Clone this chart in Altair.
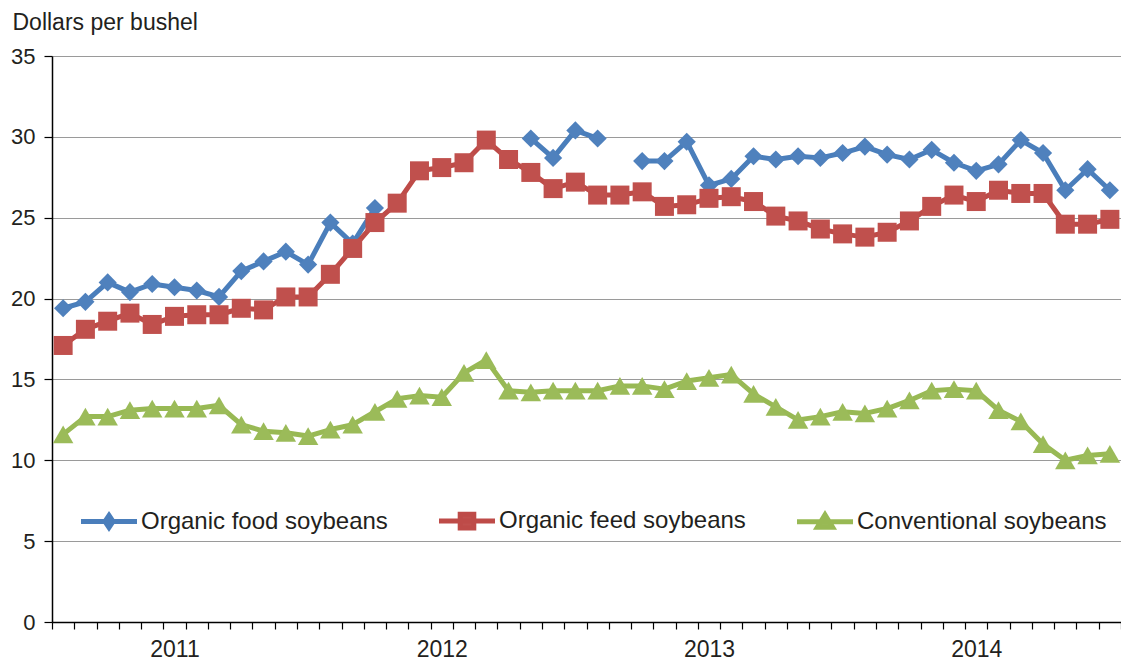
import altair as alt
import pandas as pd

years = [2011, 2012, 2013, 2014]
month_nums = ["01", "02", "03", "04", "05", "06", "07", "08", "09", "10", "11", "12"]
months = [f"{y}-{m}" for y in years for m in month_nums]

series_names = ["Organic food soybeans", "Organic feed soybeans", "Conventional soybeans"]

organic_food = [
    19.4, 19.8, 21.0, 20.4, 20.9, 20.7, 20.5, 20.1, 21.7, 22.3, 22.9, 22.1,
    24.7, 23.4, 25.6, None, None, None, None, None, None, 29.9, 28.7, 30.4,
    29.9, None, 28.5, 28.5, 29.7, 27.0, 27.4, 28.8, 28.6, 28.8, 28.7, 29.0,
    29.4, 28.9, 28.6, 29.2, 28.4, 27.9, 28.3, 29.8, 29.0, 26.7, 28.0, 26.7,
]
organic_feed = [
    17.1, 18.1, 18.6, 19.1, 18.4, 18.9, 19.0, 19.0, 19.4, 19.3, 20.1, 20.1,
    21.5, 23.1, 24.7, 25.9, 27.9, 28.1, 28.4, 29.8, 28.6, 27.8, 26.8, 27.2,
    26.4, 26.4, 26.6, 25.7, 25.8, 26.2, 26.3, 26.0, 25.1, 24.8, 24.3, 24.0,
    23.8, 24.1, 24.8, 25.7, 26.4, 26.0, 26.7, 26.5, 26.5, 24.6, 24.6, 24.9,
]
conventional = [
    11.6, 12.7, 12.7, 13.1, 13.2, 13.2, 13.2, 13.4, 12.2, 11.8, 11.7, 11.5,
    11.9, 12.2, 13.0, 13.8, 14.0, 13.9, 15.4, 16.2, 14.3, 14.2, 14.3, 14.3,
    14.3, 14.6, 14.6, 14.4, 14.9, 15.1, 15.3, 14.1, 13.3, 12.5, 12.7, 13.0,
    12.9, 13.2, 13.7, 14.3, 14.4, 14.3, 13.1, 12.4, 11.0, 10.0, 10.3, 10.4,
]

marker_colors = ["#4F81BD", "#C0504D", "#9BBB59"]
line_colors = ["#4A7EBB", "#BE4B48", "#98B954"]
shapes = ["diamond", "square", "triangle-up"]
sizes = [330, 361, 420]

# legend symbols: a line segment with the marker in the middle (unit = 8px)
legend_paths = [
    "M-3.5,0L3.5,0M0,-0.75L0.5,0L0,0.75L-0.5,0Z",
    "M-3.5,0L3.5,0M-0.85,-0.85L0.85,-0.85L0.85,0.85L-0.85,0.85Z",
    "M-3.5,0L3.5,0M0,-0.85L0.95,0.7L-0.95,0.7Z",
]

rows = []
for name, vals in zip(series_names, [organic_food, organic_feed, conventional]):
    seg = 0
    prev_none = False
    for m, v in zip(months, vals):
        if v is None:
            prev_none = True
            continue
        if prev_none:
            seg += 1
            prev_none = False
        rows.append({"month": m, "series": name, "value": v, "segment": seg})
df = pd.DataFrame(rows)

FONT = "Liberation Sans"
TXT = "#231f20"

x_enc = alt.X(
    "month:O",
    bandPosition=0.5,
    scale=alt.Scale(type="band", domain=months, paddingInner=0, paddingOuter=0),
    axis=alt.Axis(
        title=None,
        tickBand="extent",
        labelExpr="substring(datum.value, 5, 7) == '06' ? substring(datum.value, 0, 4) : ''",
        labelAngle=0,
        labelOverlap=False,
        labelFontSize=23,
        labelFont=FONT,
        labelColor=TXT,
        labelBaseline="alphabetic",
        labelPadding=27,
        tickSize=7,
        tickColor="#000000",
        tickWidth=1.2,
        domainColor="#000000",
        domainWidth=1.5,
        grid=False,
    ),
)
y_enc = alt.Y(
    "value:Q",
    scale=alt.Scale(domain=[0, 35], nice=False, zero=True),
    axis=alt.Axis(
        values=[0, 5, 10, 15, 20, 25, 30, 35],
        title="Dollars per bushel",
        titleAngle=0,
        titleAlign="left",
        titleBaseline="alphabetic",
        titleX=-40,
        titleY=-27,
        titleFont=FONT,
        titleFontSize=23,
        titleFontWeight="normal",
        titleColor=TXT,
        labelFont=FONT,
        labelFontSize=22,
        labelColor=TXT,
        labelPadding=9,
        tickSize=8,
        tickColor="#000000",
        tickWidth=1.2,
        domainColor="#000000",
        domainWidth=1.5,
        grid=True,
        gridColor="#9a9a9a",
        gridWidth=1.2,
    ),
)

base = alt.Chart(df)
layers = []
for name, mc, lc, shp, sz in zip(series_names, marker_colors, line_colors, shapes, sizes):
    sub = base.transform_filter(alt.datum.series == name)
    layers.append(
        sub.mark_line(color=lc, strokeWidth=5, strokeJoin="round", strokeCap="round").encode(
            x=x_enc, y=y_enc, detail="segment:N"
        )
    )
    layers.append(
        sub.mark_point(shape=shp, size=sz, filled=True, color=mc, opacity=1).encode(x=x_enc, y=y_enc)
    )

legend_def = alt.Legend(
    title=None,
    orient="none",
    direction="horizontal",
    legendX=45,
    legendY=453,
    padding=0,
    symbolSize=256,
    symbolStrokeWidth=5,
    symbolOpacity=1,
    labelFont=FONT,
    labelFontSize=24,
    labelColor=TXT,
    labelOffset=20,
    labelLimit=0,
    columnPadding=41,
)
legend_layer = base.mark_point(filled=True, opacity=0).encode(
    x=x_enc,
    y=y_enc,
    color=alt.Color("series:N", scale=alt.Scale(domain=series_names, range=marker_colors), legend=legend_def),
    stroke=alt.Stroke("series:N", scale=alt.Scale(domain=series_names, range=line_colors), legend=legend_def),
    shape=alt.Shape("series:N", scale=alt.Scale(domain=series_names, range=legend_paths), legend=legend_def),
)
layers.append(legend_layer)

chart = (
    alt.layer(*layers)
    .properties(
        width=1069,
        height=566,
        autosize=alt.AutoSizeParams(type="none"),
        padding={"left": 44, "top": 48, "right": 0, "bottom": 39},
    )
    .configure_view(strokeWidth=0)
    .configure(font=FONT)
)

chart.save("out.html", embed_options={"renderer": "svg", "actions": False})
